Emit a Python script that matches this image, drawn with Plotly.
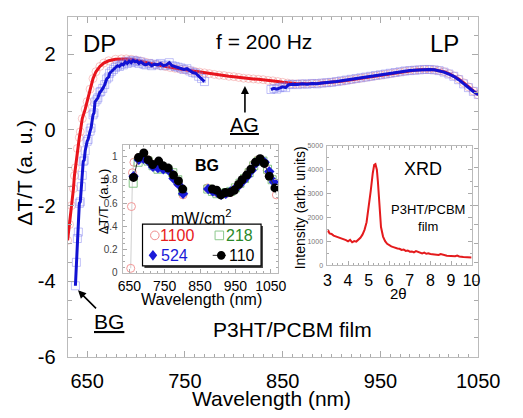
import plotly.graph_objects as go

W, H = 523, 418
FONT = "Liberation Sans, Arial, sans-serif"

# ---------------- main plot data ----------------
red_wl = [630, 632, 634, 636, 637, 638, 640, 642, 643, 645, 648, 650, 653, 656, 659, 663, 667, 672,
          679, 685, 690, 695, 700, 705, 710, 715, 720, 725, 730, 735, 740, 745, 750, 755, 760, 765,
          770, 775, 780, 785, 790, 795, 800, 805, 810, 815, 820, 825, 830, 835, 840, 845, 850, 855,
          860, 865, 870, 875, 880, 885, 890, 895, 900, 905, 910, 915, 920, 925, 930, 935, 940, 945,
          950, 955, 960, 965, 970, 975, 980, 985, 990, 995, 1000, 1005, 1010, 1015, 1020, 1025, 1030,
          1035, 1040, 1045, 1050]
red_dt = [-2.92, -2.5, -2.0, -1.55, -1.21, -1.0, -0.49, -0.2, -0.05, 0.3, 0.55, 0.75, 1.08, 1.36, 1.54,
          1.68, 1.77, 1.83, 1.87, 1.88, 1.88, 1.87, 1.85, 1.82, 1.79, 1.76, 1.73, 1.70, 1.68, 1.65,
          1.63, 1.61, 1.59, 1.57, 1.55, 1.53, 1.51, 1.49, 1.47, 1.45, 1.44, 1.42, 1.41, 1.39, 1.37,
          1.36, 1.35, 1.34, 1.33, 1.31, 1.30, 1.28, 1.26, 1.24, 1.22, 1.22, 1.22, 1.22, 1.23, 1.23,
          1.24, 1.25, 1.26, 1.28, 1.29, 1.31, 1.33, 1.35, 1.37, 1.39, 1.41, 1.43, 1.45, 1.47, 1.49,
          1.51, 1.53, 1.55, 1.57, 1.58, 1.59, 1.60, 1.60, 1.59, 1.57, 1.54, 1.49, 1.43, 1.35, 1.25,
          1.14, 1.03, 0.93]

blue_wl = [638, 639, 640, 641, 642, 643, 644, 645, 646, 647, 648, 650, 651, 653, 654, 656, 657, 658,
           660, 661, 663, 664, 666, 668, 670, 672, 673, 675, 677, 679, 681, 683, 685, 687, 689, 691,
           693, 695, 697, 699, 701, 703, 705, 708, 710, 713, 716, 719, 722, 725, 728, 731, 734, 737,
           740, 743, 746, 749, 752, 755, 758, 761, 764, 767, 770,
           None,
           838, 841, 844, 847, 850, 853, 856, 860, 865, 870, 875, 880, 885, 890, 895, 900, 905, 910,
           915, 920, 925, 930, 935, 940, 945, 950, 955, 960, 965, 970, 975, 980, 985, 990, 995, 1000,
           1005, 1010, 1015, 1020, 1025, 1030, 1035, 1040, 1045, 1050]
blue_dt = [-4.12, -3.5, -2.87, -2.7, -1.94, -1.9, -1.5, -1.2, -0.83, -0.8, -0.55, -0.3, -0.25, -0.03,
           0.05, 0.4, 0.45, 0.74, 0.8, 0.85, 1.0, 1.02, 1.1, 1.2, 1.35, 1.4, 1.5, 1.55, 1.6, 1.65,
           1.7, 1.68, 1.74, 1.72, 1.8, 1.76, 1.82, 1.78, 1.84, 1.8, 1.82, 1.76, 1.8, 1.74, 1.72, 1.76,
           1.7, 1.74, 1.72, 1.76, 1.7, 1.72, 1.78, 1.7, 1.68, 1.66, 1.64, 1.6, 1.62, 1.56, 1.52, 1.5,
           1.42, 1.36, 1.28,
           None,
           1.07, 1.10, 1.08, 1.12, 1.14, 1.12, 1.20, 1.21, 1.20, 1.22, 1.21, 1.23, 1.22, 1.24, 1.25,
           1.26, 1.28, 1.30, 1.32, 1.34, 1.36, 1.38, 1.40, 1.42, 1.44, 1.46, 1.48, 1.50, 1.52, 1.54,
           1.56, 1.57, 1.58, 1.59, 1.60, 1.60, 1.59, 1.57, 1.53, 1.48, 1.42, 1.33, 1.22, 1.12, 1.02,
           0.94]

main_xticks = [650, 750, 850, 950, 1050]
main_yticks = [-6, -4, -2, 0, 2]
main_yticklabels = ["-6", "-4", "-2", "0", "2"]

# ---------------- inset 1 (BG) data ----------------
bg1100_wl = [654, 656, 659, 663, 676, 690, 704, 718, 732, 746, 760, 774, 788, 802, None,
             871, 884, 897, 910, 923, 936, 949, 962, 975, 988, 1001, 1014, 1027, 1040, 1066]
bg1100_dt = [0.04, 0.57, 0.86, 0.95, 0.99, 1.01, 0.97, 0.93, 0.92, 0.91, 0.89, 0.84, 0.77, 0.67, None,
             0.73, 0.71, 0.69, 0.68, 0.68, 0.69, 0.72, 0.76, 0.81, 0.87, 0.93, 0.97, 0.95, 0.88, 0.67]
bg218_wl = [661, 675, 689, 703, 717, 731, 745, 759, 773, 787, 801,
            872, 885, 898, 911, 924, 937, 950, 963, 976, 989, 1002, 1015, 1028, 1041, 1054]
bg218_dt = [0.77, 0.95, 0.99, 0.96, 0.92, 0.89, 0.90, 0.89, 0.86, 0.80, 0.70,
            0.72, 0.70, 0.68, 0.68, 0.69, 0.70, 0.73, 0.77, 0.81, 0.86, 0.92, 0.96, 0.96, 0.89, 0.80]
bg524_wl = [662, 677, 690, 703, 717, 731, 746, 761, 775, 789, 802,
            873, 886, 898, 910, 923, 936, 948, 960, 972, 984, 996, 1008, 1021, 1033, 1046, 1059]
bg524_dt = [0.83, 0.97, 0.98, 0.96, 0.91, 0.90, 0.89, 0.88, 0.81, 0.76, 0.68,
            0.72, 0.70, 0.69, 0.67, 0.68, 0.70, 0.72, 0.75, 0.79, 0.83, 0.88, 0.94, 0.97, 0.95, 0.87, 0.78]
bg110_wl = [662, 676, 691, 703, 716, 733, 745, 760, 775, 789, 801, None,
            885, 897, 909, 922, 935, 947, 959, 969, 982, 994, 1007, 1020, 1032, 1046, 1062]
bg110_dt = [0.82, 0.99, 1.03, 0.97, 0.93, 0.96, 0.92, 0.90, 0.84, 0.79, 0.72, None,
            0.72, 0.71, 0.67, 0.69, 0.69, 0.71, 0.76, 0.80, 0.84, 0.89, 0.95, 0.98, 0.94, 0.83, 0.73]
inset1_xticks = [650, 750, 850, 950, 1050]

# ---------------- inset 2 (XRD) data ----------------
xrd_2theta = [3.0, 3.05, 3.1, 3.2, 3.3, 3.4, 3.5, 3.6, 3.7, 3.8, 3.9, 4.0, 4.1, 4.2, 4.3, 4.4, 4.5, 4.6,
              4.7, 4.8, 4.9, 5.0, 5.1, 5.2, 5.27, 5.33, 5.4, 5.45, 5.5, 5.55, 5.6, 5.7, 5.8, 5.9, 6.0,
              6.1, 6.2, 6.3, 6.4, 6.5, 6.6, 6.7, 6.8, 6.9, 7.0, 7.1, 7.2, 7.3, 7.4, 7.5, 7.6, 7.7, 7.8,
              7.9, 8.0, 8.2, 8.4, 8.5, 8.6, 8.8, 9.0, 9.2, 9.3, 9.4, 9.6, 9.8, 10.0]
xrd_int = [1380, 1430, 1330, 1310, 1240, 1210, 1170, 1160, 1110, 1090, 1050, 1000, 1060, 960, 1010,
           990, 1060, 1150, 1280, 1480, 1800, 2350, 3100, 3850, 4200, 4230, 4000, 3500, 2800, 2100,
           1600, 1200, 1010, 900, 840, 790, 760, 720, 700, 690, 640, 660, 600, 620, 570, 580, 540,
           590, 560, 520, 500, 530, 480, 500, 470, 450, 430, 470, 440, 400, 390, 380, 410, 370, 350,
           340, 330]


def px(x):
    return x / W


def py(y):
    return 1 - y / H


fig = go.Figure()

# main plot traces
fig.add_trace(go.Scatter(x=red_wl, y=red_dt, mode="markers", xaxis="x", yaxis="y",
                         marker=dict(symbol="circle-open", size=8, color="rgba(240,130,130,0.45)",
                                     line=dict(width=1)), hoverinfo="skip"))
fig.add_trace(go.Scatter(x=red_wl, y=red_dt, mode="lines", xaxis="x", yaxis="y",
                         line=dict(color="#e8141c", width=3)))
fig.add_trace(go.Scatter(x=blue_wl, y=blue_dt, mode="markers", xaxis="x", yaxis="y",
                         marker=dict(symbol="square-open", size=8, color="rgba(120,120,240,0.45)",
                                     line=dict(width=1)), hoverinfo="skip"))
fig.add_trace(go.Scatter(x=blue_wl, y=blue_dt, mode="lines", xaxis="x", yaxis="y",
                         line=dict(color="#1212d2", width=3), connectgaps=False))

# inset 1 traces
fig.add_trace(go.Scatter(x=bg1100_wl, y=bg1100_dt, mode="lines+markers", xaxis="x2", yaxis="y2",
                         line=dict(color="#cfcfcf", width=1),
                         marker=dict(symbol="circle-open", size=8, color="rgba(240,140,140,0.9)",
                                     line=dict(width=1))))
fig.add_trace(go.Scatter(x=bg218_wl, y=bg218_dt, mode="markers", xaxis="x2", yaxis="y2",
                         marker=dict(symbol="square-open", size=8, color="rgba(120,190,120,0.9)",
                                     line=dict(width=1))))
fig.add_trace(go.Scatter(x=bg524_wl, y=bg524_dt, mode="markers", xaxis="x2", yaxis="y2",
                         marker=dict(symbol="diamond", size=8, color="#1a1ad8")))
fig.add_trace(go.Scatter(x=bg110_wl, y=bg110_dt, mode="lines+markers", xaxis="x2", yaxis="y2",
                         line=dict(color="#333333", width=1),
                         marker=dict(symbol="circle", size=9, color="black")))

# inset 2 trace
fig.add_trace(go.Scatter(x=xrd_2theta, y=xrd_int, mode="lines", xaxis="x3", yaxis="y3",
                         line=dict(color="#e41a1c", width=2)))

axcommon = dict(showgrid=False, zeroline=False, showline=True, linecolor="#bbbbbb", linewidth=1,
                mirror="allticks", ticks="inside", tickcolor="#aaaaaa")

fig.update_layout(
    width=W, height=H, margin=dict(l=0, r=0, t=0, b=0),
    paper_bgcolor="white", plot_bgcolor="white", showlegend=False,
    font=dict(family=FONT, color="black"),
    xaxis=dict(domain=[px(66), px(499)], range=[630, 1050], anchor="y",
               tickmode="array", tickvals=main_xticks, ticklen=6, ticklabelstandoff=6,
               tickfont=dict(size=20), minor=dict(dtick=10, tick0=650, ticklen=3, ticks="inside",
                                                  tickcolor="#aaaaaa"), **axcommon),
    yaxis=dict(domain=[py(366), py(13)], range=[-6, 3], anchor="x",
               tickmode="array", tickvals=main_yticks, ticktext=main_yticklabels, ticklen=6,
               ticklabelstandoff=7, tickfont=dict(size=20),
               minor=dict(dtick=0.5, tick0=0, ticklen=4, ticks="inside", tickcolor="#aaaaaa"),
               **axcommon),
    xaxis2=dict(domain=[px(124), px(288)], range=[631, 1071], anchor="y2",
                tickmode="array", tickvals=inset1_xticks, ticklen=4, ticklabelstandoff=0,
                tickfont=dict(size=14),
                minor=dict(dtick=20, tick0=650, ticklen=2, ticks="inside", tickcolor="#aaaaaa"),
                **axcommon),
    yaxis2=dict(domain=[py(279), py(146)], range=[0, 1.1], anchor="x2",
                tickmode="linear", tick0=0, dtick=0.2, ticklen=4, ticklabelstandoff=2,
                tickfont=dict(size=10, color="#444444"),
                minor=dict(dtick=0.05, ticklen=2, ticks="inside", tickcolor="#aaaaaa"),
                **axcommon),
    xaxis3=dict(domain=[px(340), px(492)], range=[3, 10], anchor="y3",
                tickmode="linear", tick0=3, dtick=1, ticklen=4, ticklabelstandoff=1,
                tickfont=dict(size=16),
                minor=dict(dtick=0.25, ticklen=2, ticks="inside", tickcolor="#aaaaaa"),
                **axcommon),
    yaxis3=dict(domain=[py(271), py(147)], range=[0, 5000], anchor="x3",
                tickmode="linear", tick0=0, dtick=1000, ticklen=4, ticklabelstandoff=2,
                tickfont=dict(size=7, color="#777777"),
                minor=dict(dtick=500, ticklen=2, ticks="inside", tickcolor="#aaaaaa"),
                **axcommon),
)


def ann(x, y, text, size, color="black", xanchor="center", angle=0, **kw):
    fig.add_annotation(x=px(x), y=py(y), xref="paper", yref="paper", text=text, showarrow=False,
                       xanchor=xanchor, yanchor="middle", textangle=angle,
                       font=dict(size=size, color=color, family=FONT), **kw)


# axis titles
ann(281, 409, "Wavelength (nm)", 21)
ann(21, 175, "ΔT/T (a. u.)", 21, angle=-90)
ann(207, 306, "Wavelength (nm)", 16)
ann(104, 205, "ΔT/T  (a.u.)", 13, angle=-90)
ann(415, 300, "2θ", 15)
ann(311, 211, "Intensity (arb. units)", 14, angle=-90)

# labels
ann(100, 41, "DP", 24)
ann(273, 39, "f = 200 Hz", 21)
ann(463, 41, "LP", 24)
ann(303, 338, "P3HT/PCBM film", 21)
ann(213, 167, "<b>BG</b>", 16)
ann(441, 171, "XRD", 18)
ann(446, 222, "P3HT/PCBM<br>film", 13)
ann(207, 221, "mW/cm<sup>2</sup>", 16)

# labels with arrows (arrow head at x,y; text centred at offset ax,ay)
fig.add_annotation(x=px(253), y=py(85), xref="paper", yref="paper", text="<u>AG</u>",
                   showarrow=True, ax=0, ay=39, arrowhead=2, arrowsize=1, arrowwidth=1.6,
                   arrowcolor="black", font=dict(size=20, color="black", family=FONT))
fig.add_annotation(x=px(77), y=py(297), xref="paper", yref="paper", text="<u>BG</u>",
                   showarrow=True, ax=31, ay=31, arrowhead=2, arrowsize=1, arrowwidth=1.6,
                   arrowcolor="black", font=dict(size=21, color="black", family=FONT))

# legend box inside inset 1
fig.add_shape(type="rect", xref="paper", yref="paper", x0=px(147), x1=px(272), y0=py(273.7),
              y1=py(230.3), line=dict(width=0), fillcolor="#444444")
fig.add_shape(type="rect", xref="paper", yref="paper", x0=px(145), x1=px(270), y0=py(271.7),
              y1=py(228.3), line=dict(width=1.2, color="black"), fillcolor="white")
r = 4.5
fig.add_shape(type="circle", xref="paper", yref="paper", x0=px(158 - r), x1=px(158 + r),
              y0=py(240 + r), y1=py(240 - r), line=dict(width=1, color="#f08c8c"))
fig.add_shape(type="rect", xref="paper", yref="paper", x0=px(226 - r), x1=px(226 + r),
              y0=py(240 + r), y1=py(240 - r), line=dict(width=1, color="#8cc88c"))
fig.add_shape(type="path", xref="paper", yref="paper",
              path=f"M {px(156 - r)} {py(260.7)} L {px(156)} {py(260.7 - r - 1)} L {px(156 + r)} {py(260.7)} L {px(156)} {py(260.7 + r + 1)} Z",
              line=dict(width=0), fillcolor="#1a1ad8")
fig.add_shape(type="line", xref="paper", yref="paper", x0=px(219), x1=px(233), y0=py(260.7),
              y1=py(260.7), line=dict(width=1, color="#333333"))
fig.add_shape(type="circle", xref="paper", yref="paper", x0=px(228 - r), x1=px(228 + r),
              y0=py(260.7 + r), y1=py(260.7 - r), line=dict(width=0), fillcolor="black")
ann(161, 240, "1100", 16, color="#e82020", xanchor="left")
ann(231, 240, "218", 16, color="#2a8a2a", xanchor="left")
ann(162, 261, "524", 16, color="#1a1ad8", xanchor="left")
ann(234, 261, "110", 16, color="black", xanchor="left")

fig.write_html("out.html", config={"displayModeBar": False},
               post_script="document.body.style.margin='0';document.body.style.overflow='hidden';")
